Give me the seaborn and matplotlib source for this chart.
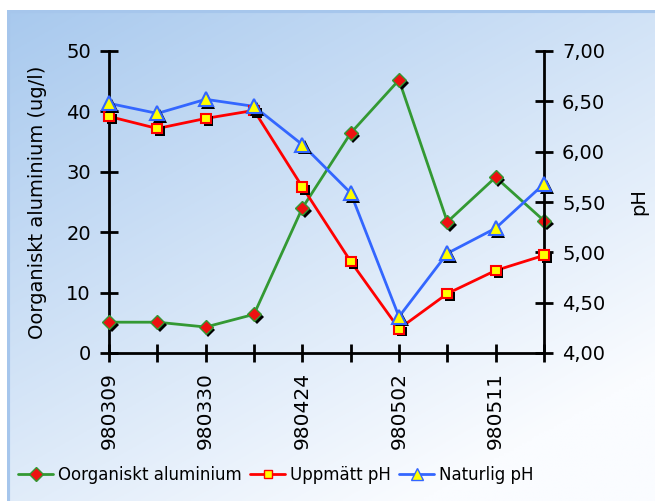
import numpy as np
import pandas as pd
import matplotlib
matplotlib.use("Agg")
import matplotlib.pyplot as plt
import matplotlib.patheffects as pe
import seaborn as sns

dates = ["980309", "980316", "980330", "980406", "980424",
         "980428", "980502", "980506", "980511", "980515"]
tick_labels = ["980309", "", "980330", "", "980424", "", "980502", "", "980511", ""]
aluminium = [5.1, 5.1, 4.3, 6.4, 24.0, 36.4, 45.2, 21.7, 29.1, 21.9]
ph_measured = [6.35, 6.23, 6.33, 6.41, 5.65, 4.91, 4.24, 4.59, 4.82, 4.97]
ph_natural = [6.48, 6.38, 6.52, 6.45, 6.07, 5.59, 4.36, 4.99, 5.24, 5.68]

sns.set_theme(style="white")
plt.rcParams['font.family'] = ['DejaVu Sans']

W, H = 655, 501
fig = plt.figure(figsize=(W / 100, H / 100), dpi=100)
fig.patch.set_facecolor("white")

# background gradient
bg = fig.add_axes([7 / W, 0, 1 - 7 / W, 1 - 10 / H], zorder=-10)
yy, xx = np.mgrid[0:1:200j, 0:1:260j]
t = np.clip((xx * 0.55 + yy * 0.75) / 1.1, 0, 1)
c0 = np.array([168, 201, 238]) / 255
c1 = np.array([250, 252, 255]) / 255
img = c0[None, None, :] * (1 - t[..., None]) + c1[None, None, :] * t[..., None]
bg.imshow(img, aspect="auto", extent=[0, 1, 0, 1], origin="upper")
bg.axvline(0.002, color="#a6c6ec", lw=3)
bg.axhline(0.998, color="#a6c6ec", lw=3)
bg.set_axis_off()

L, R = 109 / W, 544 / W
B, T = (H - 353) / H, (H - 51) / H
ax = fig.add_axes([L, B, R - L, T - B])
ax.set_facecolor("none")
ax2 = ax.twinx()

x = np.arange(len(dates))
df = pd.DataFrame({"x": x, "al": aluminium, "phm": ph_measured, "phn": ph_natural})

shadow = [pe.SimplePatchShadow(offset=(2, -2), shadow_rgbFace="black", alpha=1.0), pe.Normal()]

sns.lineplot(data=df, x="x", y="al", ax=ax, color="#339933", lw=2, zorder=3)
ax.plot(x, aluminium, ls="none", marker="D", ms=7, mfc="#ee1111", mec="#339933",
        mew=1, zorder=4, path_effects=shadow)

sns.lineplot(data=df, x="x", y="phm", ax=ax2, color="#ff0000", lw=2, zorder=3)
ax2.plot(x, ph_measured, ls="none", marker="s", ms=7, mfc="#ffff00", mec="#ff0000",
         mew=1.5, zorder=4, path_effects=shadow)
sns.lineplot(data=df, x="x", y="phn", ax=ax2, color="#3366ff", lw=2, zorder=3)
ax2.plot(x, ph_natural, ls="none", marker="^", ms=10, mfc="#ffff00", mec="#3366ff",
         mew=1.5, zorder=4, path_effects=shadow)
for a in (ax, ax2):
    for ln in a.lines:
        ln.set_clip_on(False)

ax.set_xlim(0, 9)
ax.set_ylim(0, 50)
ax2.set_ylim(4, 7)
ax.set_yticks(range(0, 51, 10))
ax2.set_yticks(np.arange(4, 7.01, 0.5))
ax2.set_yticklabels([f"{v:.2f}".replace(".", ",") for v in np.arange(4, 7.01, 0.5)])
ax.set_xticks(x)
ax.set_xticklabels(tick_labels, rotation=90)

for a in (ax, ax2):
    for s in a.spines.values():
        s.set_visible(False)
ax.spines["left"].set_visible(True)
ax.spines["bottom"].set_visible(True)
ax2.spines["right"].set_visible(True)
for s in (ax.spines["left"], ax.spines["bottom"], ax2.spines["right"]):
    s.set_color("black")
    s.set_linewidth(2)

ax.tick_params(axis="both", direction="inout", length=13, width=2, color="black",
               labelsize=14, labelcolor="black", pad=6.5)
ax.tick_params(axis="y", left=True)
ax.tick_params(axis="x", bottom=True, labelsize=14.5, pad=7)
ax2.tick_params(axis="y", direction="inout", length=13, width=2, color="black",
                labelsize=14, labelcolor="black", right=True, pad=6.5)

ax.set_xlabel("")
ax.set_ylabel("Oorganiskt aluminium (ug/l)", fontsize=14, color="black", labelpad=14)
ax2.set_ylabel("pH", fontsize=14, color="black", labelpad=17)
ax.grid(False)
ax2.grid(False)

handles = [
    plt.Line2D([], [], color="#339933", lw=2, marker="D", ms=7, mfc="#ee1111", mec="#339933"),
    plt.Line2D([], [], color="#ff0000", lw=2, marker="s", ms=6, mfc="#ffff00", mec="#ff0000"),
    plt.Line2D([], [], color="#3366ff", lw=2, marker="^", ms=8, mfc="#ffff00", mec="#3366ff"),
]
leg = fig.legend(handles, ["Oorganiskt aluminium", "Uppmätt pH", "Naturlig pH"],
                 loc="center left", bbox_to_anchor=(18 / W, (H - 475) / H), ncol=3, frameon=False,
                 fontsize=12, handlelength=2.1, handletextpad=0.3, columnspacing=0.5,
                 borderpad=0, borderaxespad=0)
for txt in leg.get_texts():
    txt.set_color("black")

fig.savefig("out.png", dpi=100)
